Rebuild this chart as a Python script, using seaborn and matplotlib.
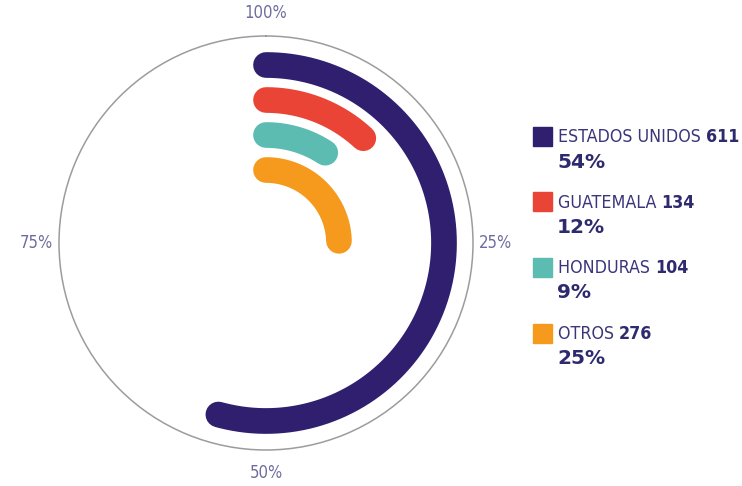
import numpy as np
import pandas as pd
import matplotlib
matplotlib.use("Agg")
import matplotlib.pyplot as plt
import seaborn as sns

# data
countries = ["ESTADOS UNIDOS", "GUATEMALA", "HONDURAS", "OTROS"]
counts = [611, 134, 104, 276]
pct_labels = ["54%", "12%", "9%", "25%"]
colors = ["#2f1f6e", "#ea4437", "#5cbcb2", "#f59a1d"]
ring_ticks = ["100%", "25%", "50%", "75%"]

sns.set_style("white")
plt.rcParams["font.family"] = ["DejaVu Sans"]
plt.rcParams["font.stretch"] = "condensed"

W, H = 742, 486
fig = plt.figure(figsize=(W / 100, H / 100), dpi=100)

# polar axes, centre (266, 243) px, radius 207 px
cx, cy, R = 266, 243, 207
ax = fig.add_axes([(cx - R) / W, (H - cy - R) / H, 2 * R / W, 2 * R / H],
                  projection="polar")
ax.set_theta_zero_location("N")
ax.set_theta_direction(-1)
ax.set_ylim(0, R)

total = sum(counts)
rows = []
for i, (name, c) in enumerate(zip(countries, counts)):
    theta = np.linspace(0, 2 * np.pi * c / total, 300)
    rows.append(pd.DataFrame({"theta": theta, "r": 178 - 35 * i, "pais": name}))
df = pd.concat(rows, ignore_index=True)

sns.lineplot(data=df, x="theta", y="r", hue="pais", palette=colors,
             sort=False, estimator=None, linewidth=18.5,
             solid_capstyle="round", legend=False, ax=ax)

ax.set_xlabel("")
ax.set_ylabel("")
ax.grid(False)
ax.set_yticks([])
ax.set_xticks(np.deg2rad([0, 90, 180, 270]))
ax.set_xticklabels(ring_ticks, color="#6e6c9e", fontsize=12)
ax.tick_params(axis="x", pad=6)
ax.spines["polar"].set_color("#9c9c9c")
ax.spines["polar"].set_linewidth(1.1)

# legend drawn by hand on the right
renderer = fig.canvas.get_renderer()
y0 = 137
step = 65.5
for i, name in enumerate(countries):
    y = y0 + step * i
    fig.patches.append(plt.Rectangle((533 / W, 1 - (y + 9) / H), 19 / W, 19 / H,
                                     transform=fig.transFigure, color=colors[i]))
    t = fig.text(558 / W, 1 - y / H, name + " ", fontsize=12.8, color="#3b357a",
                 va="center", ha="left")
    bb = t.get_window_extent(renderer)
    fig.text(bb.x1 / W, 1 - y / H, str(counts[i]), fontsize=12.8,
             fontweight="bold", color="#2e2a6e", va="center", ha="left")
    fig.text(557 / W, 1 - (y + 25) / H, pct_labels[i], fontsize=14.5,
             fontweight="bold", fontstretch="normal", color="#2e2a6e",
             va="center", ha="left")

fig.savefig("out.png", dpi=100, facecolor="white")
